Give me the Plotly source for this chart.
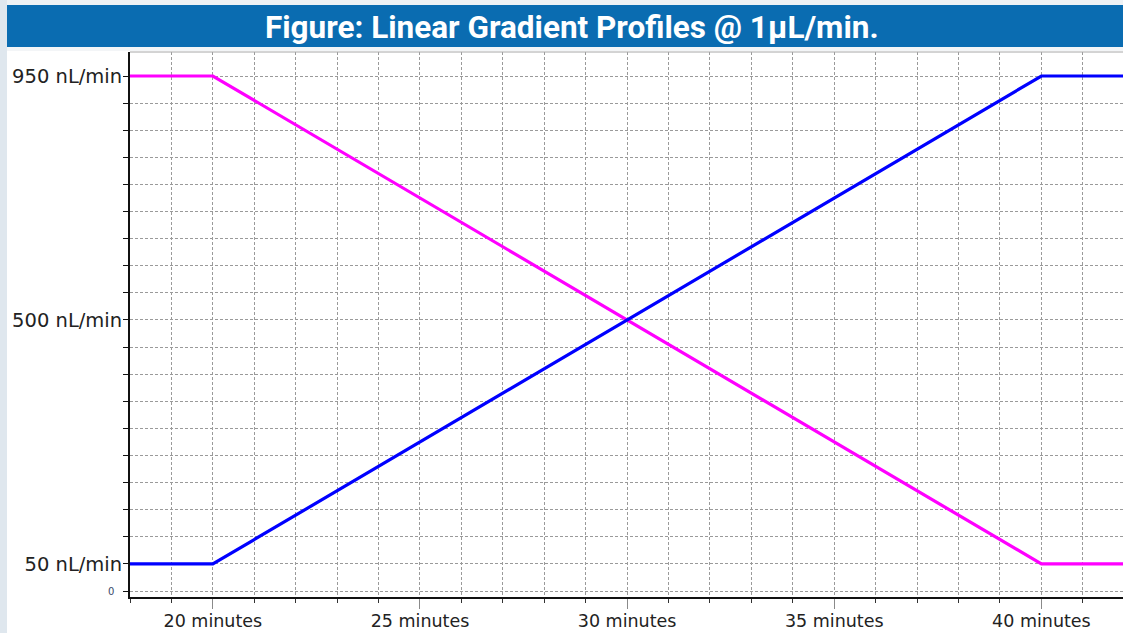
import plotly.graph_objects as go

# Data
time_min = [18, 20, 40, 42]
pump_a_nl = [950, 950, 50, 50]     # magenta trace
pump_b_nl = [50, 50, 950, 950]     # blue trace

x_tickvals = [20, 25, 30, 35, 40]
x_ticktext = ["20 minutes", "25 minutes", "30 minutes", "35 minutes", "40 minutes"]
y_tickvals = [0, 50, 500, 950]
y_ticktext = ["", "50 nL/min", "500 nL/min", "950 nL/min"]

title_text = "Figure: Linear Gradient Profiles @ 1µL/min."

W, H = 1123, 633
L, R, T, B = 130, 0, 52, 36
PW, PH = W - L - R, H - T - B


def px(xp):
    return (xp - L) / PW


def py(yp):
    return (H - B - yp) / PH


fig = go.Figure()
fig.add_trace(go.Scatter(x=time_min, y=pump_a_nl, mode="lines",
                         line=dict(color="#ff00ff", width=3.2), hoverinfo="skip"))
fig.add_trace(go.Scatter(x=time_min, y=pump_b_nl, mode="lines",
                         line=dict(color="#0000ff", width=3.2), hoverinfo="skip"))

grid_color = "#9a9a9a"
grid_dash = "3px,2px"

fig.update_xaxes(
    range=[18, 41.97],
    tickvals=x_tickvals, ticktext=x_ticktext,
    ticks="outside", ticklen=10, tickcolor="#8a8a8a", tickwidth=1,
    ticklabelstandoff=-3,
    showgrid=True, gridcolor=grid_color, griddash=grid_dash, gridwidth=1,
    minor=dict(dtick=1, tick0=18, ticks="outside", ticklen=4, tickcolor="#333",
               showgrid=True, gridcolor=grid_color, griddash=grid_dash, gridwidth=1),
    showline=True, linecolor="#111", linewidth=2,
    zeroline=False, automargin=False,
    tickfont=dict(family="DejaVu Sans", size=17.5, color="#222"),
)
fig.update_yaxes(
    range=[-11, 994.3],
    tickvals=y_tickvals, ticktext=y_ticktext,
    ticks="outside", ticklen=5, tickcolor="#111", tickwidth=1,
    ticklabelstandoff=-3,
    showgrid=True, gridcolor=grid_color, griddash=grid_dash, gridwidth=1,
    minor=dict(dtick=50, tick0=0, ticks="outside", ticklen=5, tickcolor="#111",
               showgrid=True, gridcolor=grid_color, griddash=grid_dash, gridwidth=1),
    showline=True, linecolor="#111", linewidth=2,
    zeroline=False, automargin=False,
    tickfont=dict(family="DejaVu Sans", size=19.5, color="#222"),
)

shapes = [
    # page background strips
    dict(type="rect", xref="paper", yref="paper", x0=px(0), x1=px(7), y0=py(H), y1=py(0),
         fillcolor="#dfe7ee", line=dict(width=0), layer="below"),
    dict(type="rect", xref="paper", yref="paper", x0=px(7), x1=px(W), y0=py(5), y1=py(0),
         fillcolor="#eef2f5", line=dict(width=0), layer="below"),
    # title band
    dict(type="rect", xref="paper", yref="paper", x0=px(7), x1=px(W), y0=py(47), y1=py(5),
         fillcolor="#0a6cb1", line=dict(width=0), layer="below"),
    dict(type="rect", xref="paper", yref="paper", x0=px(7), x1=px(W), y0=py(51), y1=py(47),
         fillcolor="#f3f5f7", line=dict(width=0), layer="below"),
    # top border of chart
    dict(type="line", xref="paper", yref="paper", x0=px(130), x1=px(W), y0=py(52), y1=py(52),
         line=dict(color="#a8a8a8", width=1)),
]

annotations = [
    dict(text="<b>" + title_text + "</b>", xref="paper", yref="paper",
         x=px(572), y=py(27), xanchor="center", yanchor="middle", showarrow=False,
         font=dict(family="Roboto", size=31.5, color="white")),
    dict(text="0", xref="paper", yref="y", x=px(111), y=0, xanchor="center",
         yanchor="middle", showarrow=False,
         font=dict(family="DejaVu Sans", size=10, color="#3a4a6a")),
]

fig.update_layout(
    width=W, height=H,
    margin=dict(l=L, r=R, t=T, b=B, pad=0),
    paper_bgcolor="white", plot_bgcolor="white",
    showlegend=False,
    shapes=shapes, annotations=annotations,
)

fig.write_html("out.html", config={"displayModeBar": False},
               post_script="document.body.style.margin='0px';document.body.style.overflow='hidden';")
